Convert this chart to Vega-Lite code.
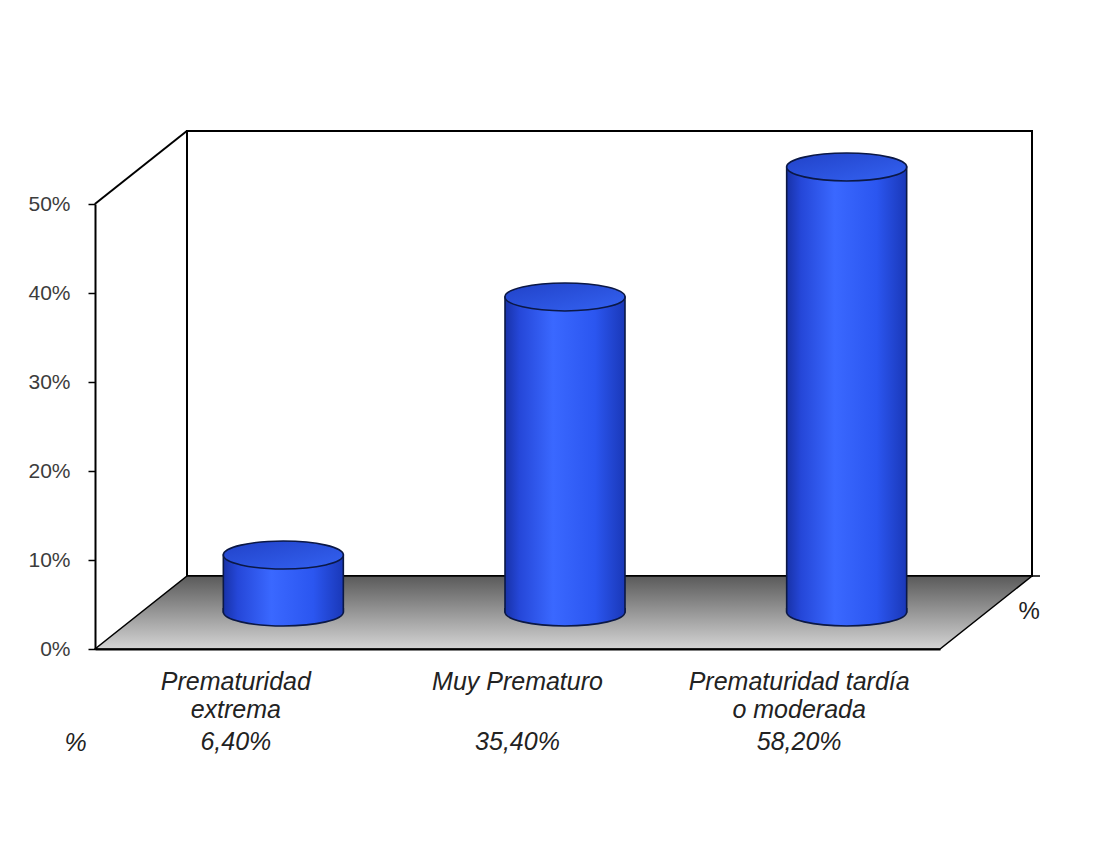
{
  "$schema": "https://vega.github.io/schema/vega-lite/v6.json",
  "width": 845,
  "height": 445,
  "autosize": "none",
  "padding": {"left": 95, "top": 204, "right": 154, "bottom": 210},
  "background": "white",
  "config": {
    "view": {"stroke": null},
    "font": "Liberation Sans",
    "locale": {"number": {"decimal": ",", "thousands": ".", "grouping": [3], "currency": ["", " €"]}}
  },
  "data": {
    "values": [
      {"cat": "Prematuridad extrema", "pct": 0.064},
      {"cat": "Muy Prematuro", "pct": 0.354},
      {"cat": "Prematuridad tardía o moderada", "pct": 0.582}
    ]
  },
  "resolve": {"axis": {"x": "independent", "y": "independent"}},
  "layer": [
    {
      "data": {"values": [{}]},
      "mark": {"type": "rect", "fill": "white", "stroke": "#000000", "strokeWidth": 2, "xOffset": 92, "x2Offset": 92, "yOffset": -73, "y2Offset": -73},
      "encoding": {
        "x": {"datum": "Prematuridad extrema", "type": "nominal", "bandPosition": 0, "scale": {"domain": ["Prematuridad extrema", "Muy Prematuro", "Prematuridad tardía o moderada"], "paddingInner": 0, "paddingOuter": 0}, "axis": null},
        "x2": {"datum": "Prematuridad tardía o moderada", "bandPosition": 1},
        "y": {"datum": 0, "type": "quantitative", "scale": {"domain": [0, 0.5], "nice": false, "clamp": true}, "axis": null},
        "y2": {"datum": 0.5}
      }
    },
    {
      "data": {"values": [{}]},
      "mark": {
        "type": "point",
        "shape": "M-422.5,0 L422.5,0 L514.5,-73 L-330.5,-73 Z M514.5,-73 L522.5,-73",
        "size": 4,
        "filled": true,
        "opacity": 1,
        "fill": {"gradient": "linear", "x1": 0, "y1": 0, "x2": 0, "y2": 1, "stops": [{"offset": 0, "color": "#5a5a5a"}, {"offset": 1, "color": "#d4d4d4"}]},
        "stroke": "#000000",
        "strokeWidth": 1.5
      },
      "encoding": {
        "x": {"datum": "Muy Prematuro", "type": "nominal", "axis": null},
        "y": {"datum": 0, "type": "quantitative", "axis": null}
      }
    },
    {
      "data": {"values": [{}]},
      "mark": {"type": "point", "shape": "M-141,0 L-49,-73", "size": 4, "filled": false, "opacity": 1, "stroke": "#000000", "strokeWidth": 2},
      "encoding": {
        "x": {"datum": "Prematuridad extrema", "type": "nominal", "axis": null},
        "y": {"datum": 0.5, "type": "quantitative", "axis": null}
      }
    },
    {
      "mark": {
        "type": "bar",
        "width": {"band": 0.426},
        "xOffset": 47.5,
        "yOffset": -37,
        "y2Offset": -37,
        "fill": {"gradient": "linear", "x1": 0, "y1": 0, "x2": 1, "y2": 0, "stops": [{"offset": 0, "color": "#1832a8"}, {"offset": 0.12, "color": "#2547d8"}, {"offset": 0.4, "color": "#3a68ff"}, {"offset": 0.75, "color": "#2b56f0"}, {"offset": 1, "color": "#1a38b8"}]},
        "stroke": "#0b1845",
        "strokeWidth": 1.6
      },
      "encoding": {
        "x": {
          "field": "cat",
          "type": "nominal",
          "sort": null,
          "axis": {
            "zindex": 1,
            "title": "%",
            "titleX": -20,
            "titleY": 101,
            "titleAlign": "center",
            "titleAnchor": "start",
            "titleBaseline": "alphabetic",
            "titleFontSize": 25,
            "titleFontStyle": "italic",
            "titleFontWeight": "normal",
            "titleColor": "#222222",
            "labelAngle": 0,
            "labelFontSize": 25,
            "labelFontStyle": "italic",
            "labelColor": "#222222",
            "labelBaseline": "alphabetic",
            "labelPadding": 40,
            "labelLineHeight": 28,
            "labelLimit": 0,
            "labelOverlap": false,
            "labelExpr": "datum.label == 'Prematuridad extrema' ? ['Prematuridad', 'extrema'] : datum.label == 'Prematuridad tardía o moderada' ? ['Prematuridad tardía', 'o moderada'] : datum.label",
            "ticks": false,
            "tickSize": 0,
            "domainColor": "#000000",
            "domainWidth": 2
          }
        },
        "y": {
          "field": "pct",
          "type": "quantitative",
          "axis": {
            "zindex": 1,
            "title": null,
            "values": [0, 0.1, 0.2, 0.3, 0.4, 0.5],
            "format": ".0%",
            "grid": false,
            "domainColor": "#000000",
            "domainWidth": 2,
            "tickColor": "#000000",
            "tickWidth": 1.5,
            "tickSize": 7,
            "labelFontSize": 21,
            "labelColor": "#3c3c3c",
            "labelPadding": 18
          }
        }
      }
    },
    {
      "mark": {
        "type": "point",
        "shape": "M-60,-4 L-60,0 A60,14 0 0,0 60,0 L60,-4",
        "size": 4,
        "filled": true,
        "opacity": 1,
        "xOffset": 47.5,
        "yOffset": -37,
        "fill": {"gradient": "linear", "x1": 0, "y1": 0, "x2": 1, "y2": 0, "stops": [{"offset": 0, "color": "#1832a8"}, {"offset": 0.12, "color": "#2547d8"}, {"offset": 0.4, "color": "#3a68ff"}, {"offset": 0.75, "color": "#2b56f0"}, {"offset": 1, "color": "#1a38b8"}]},
        "stroke": "#0b1845",
        "strokeWidth": 1.6
      },
      "encoding": {
        "x": {"field": "cat", "type": "nominal", "sort": null, "axis": null},
        "y": {"datum": 0, "type": "quantitative", "axis": null}
      }
    },
    {
      "mark": {
        "type": "point",
        "shape": "M-60,0 A60,14 0 1,0 60,0 A60,14 0 1,0 -60,0 Z",
        "size": 4,
        "filled": true,
        "opacity": 1,
        "xOffset": 47.5,
        "yOffset": -37,
        "fill": {"gradient": "linear", "x1": 0, "y1": 0, "x2": 1, "y2": 1, "stops": [{"offset": 0, "color": "#2142c8"}, {"offset": 1, "color": "#3462f2"}]},
        "stroke": "#0b1845",
        "strokeWidth": 1.6
      },
      "encoding": {
        "x": {"field": "cat", "type": "nominal", "sort": null, "axis": null},
        "y": {"field": "pct", "type": "quantitative", "axis": null}
      }
    },
    {
      "mark": {"type": "text", "yOffset": 101, "fontSize": 25, "fontStyle": "italic", "color": "#222222", "baseline": "alphabetic", "align": "center"},
      "encoding": {
        "x": {"field": "cat", "type": "nominal", "sort": null, "axis": null},
        "y": {"datum": 0, "type": "quantitative", "axis": null},
        "text": {"field": "pct", "type": "quantitative", "format": ".2%"}
      }
    },
    {
      "data": {"values": [{}]},
      "mark": {"type": "text", "text": "%", "xOffset": 230, "yOffset": -37, "fontSize": 24, "color": "#222222", "baseline": "middle", "align": "center"},
      "encoding": {
        "x": {"datum": "Prematuridad tardía o moderada", "type": "nominal", "axis": null},
        "y": {"datum": 0, "type": "quantitative", "axis": null}
      }
    }
  ]
}
